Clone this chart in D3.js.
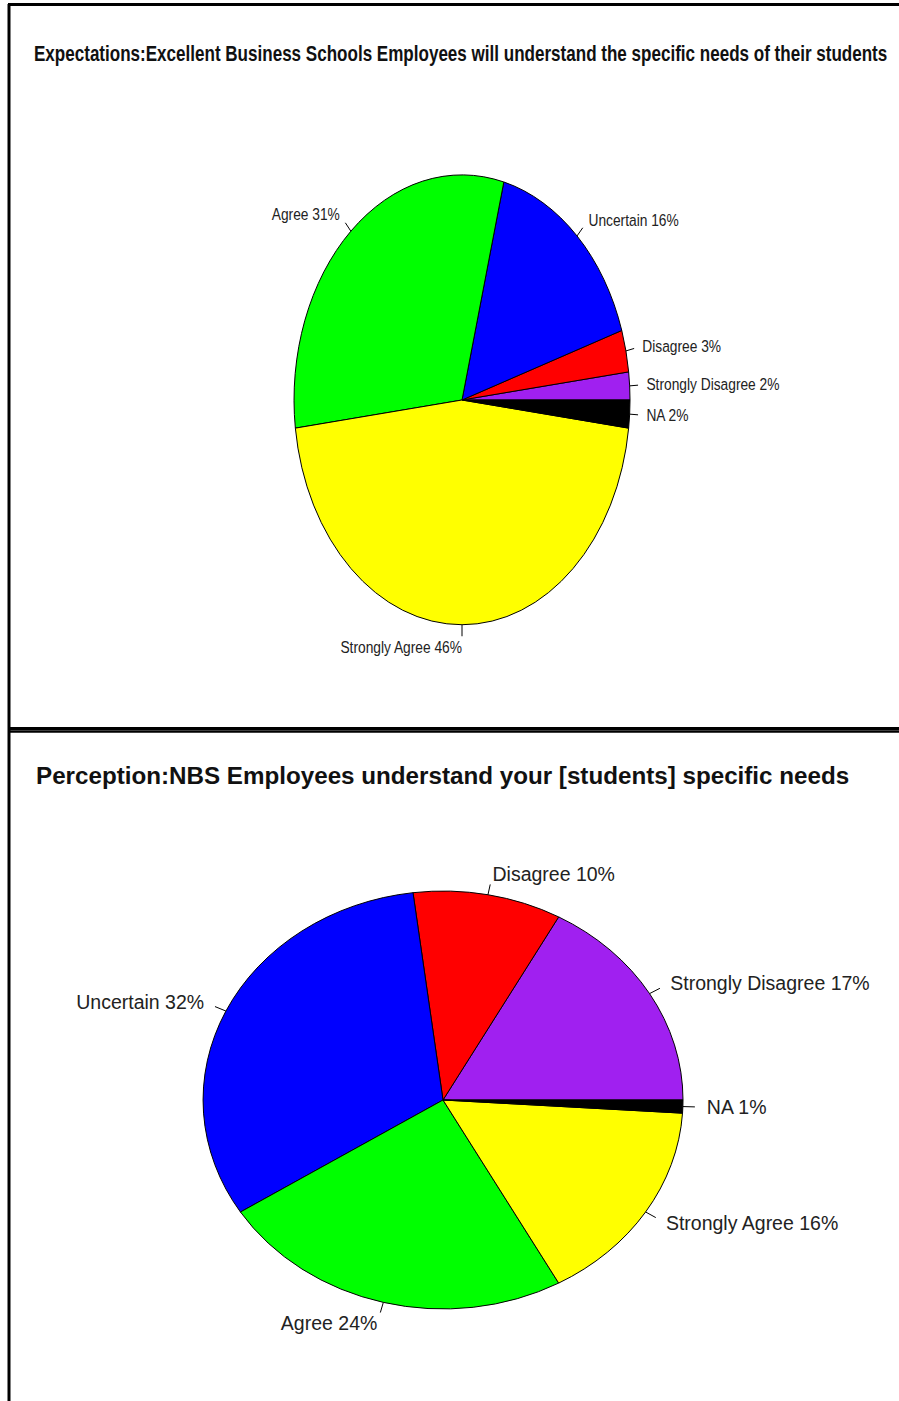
<!DOCTYPE html>
<html>
<head>
<meta charset="utf-8">
<script src="https://cdn.jsdelivr.net/npm/d3@7"></script>
<style>
  html, body { margin: 0; padding: 0; background: #fff; }
  svg { display: block; }
</style>
</head>
<body>
<svg id="chart" width="899" height="1401"></svg>
<script>
// Survey answers, in drawing order (counter-clockwise from 3 o'clock)
const categories = ["Strongly Disagree", "Disagree", "Uncertain", "Agree", "Strongly Agree", "NA"];
const sliceColors = ["#a020f0", "#ff0000", "#0000ff", "#00ff00", "#ffff00", "#000000"];

// Expectations panel (percent)
const expectationTitle = "Expectations:Excellent Business Schools Employees will understand the specific needs of their students";
const expectationValues = [2, 3, 16, 31, 46, 2];

// Perception panel (percent)
const perceptionTitle = "Perception:NBS Employees understand your [students] specific needs";
const perceptionValues = [17, 10, 32, 24, 16, 1];

const svg = d3.select("#chart");
const FONT = "'Liberation Sans', Arial, sans-serif";

// Panel frames
svg.append("line").attr("x1", 9).attr("x2", 9).attr("y1", 4).attr("y2", 1401)
  .attr("stroke", "#000").attr("stroke-width", 3);
svg.append("line").attr("x1", 8).attr("x2", 899).attr("y1", 4.5).attr("y2", 4.5)
  .attr("stroke", "#000").attr("stroke-width", 3);
svg.append("line").attr("x1", 8).attr("x2", 899).attr("y1", 728.5).attr("y2", 728.5)
  .attr("stroke", "#000").attr("stroke-width", 3);
svg.append("line").attr("x1", 8).attr("x2", 899).attr("y1", 731.5).attr("y2", 731.5)
  .attr("stroke", "#000").attr("stroke-width", 2.5);

function drawPie(opts) {
  const g = svg.append("g");

  // Title, horizontally compressed when the panel uses a narrow face
  g.append("g")
    .attr("transform", `translate(${opts.titleX},${opts.titleY}) scale(${opts.titleSqueeze},1)`)
    .append("text")
    .attr("font-family", FONT)
    .attr("font-weight", "bold")
    .attr("font-size", opts.titleSize)
    .attr("fill", "#111")
    .text(opts.title);

  const data = categories.map((c, i) => ({ name: c, value: opts.values[i], color: sliceColors[i] }));

  // Start at 3 o'clock and run counter-clockwise
  const pie = d3.pie().sort(null).value(d => d.value)
    .startAngle(Math.PI / 2).endAngle(Math.PI / 2 - 2 * Math.PI);
  const arcs = pie(data);

  const sx = d3.scaleLinear().domain([-1, 1]).range([opts.cx - opts.rx, opts.cx + opts.rx]);
  const sy = d3.scaleLinear().domain([-1, 1]).range([opts.cy - opts.ry, opts.cy + opts.ry]);

  const arc = d3.arc().innerRadius(0).outerRadius(1);
  const slices = g.append("g")
    .attr("transform", `translate(${opts.cx},${opts.cy}) scale(${opts.rx},${opts.ry})`);
  slices.selectAll("path").data(arcs).join("path")
    .attr("d", arc)
    .attr("fill", d => d.data.color)
    .attr("stroke", "#000")
    .attr("stroke-width", 1)
    .attr("vector-effect", "non-scaling-stroke");

  arcs.forEach(d => {
    const a = (d.startAngle + d.endAngle) / 2;
    const ux = Math.sin(a), uy = -Math.cos(a);
    g.append("line")
      .attr("x1", sx(ux)).attr("y1", sy(uy))
      .attr("x2", sx(1.05 * ux)).attr("y2", sy(1.05 * uy))
      .attr("stroke", "#000").attr("stroke-width", 1);
    g.append("g")
      .attr("transform", `translate(${sx(1.1 * ux)},${sy(1.1 * uy)}) scale(${opts.labelSqueeze},1)`)
      .append("text")
      .attr("dy", "0.35em")
      .attr("text-anchor", ux < 1e-9 ? "end" : "start")
      .attr("font-family", FONT)
      .attr("font-size", opts.labelSize)
      .attr("fill", "#222")
      .text(`${d.data.name} ${d.data.value}%`);
  });
}

drawPie({
  title: expectationTitle, titleX: 34, titleY: 61, titleSize: 22, titleSqueeze: 0.775,
  values: expectationValues,
  cx: 462, cy: 400, rx: 168, ry: 225,
  labelSize: 17, labelSqueeze: 0.81
});

drawPie({
  title: perceptionTitle, titleX: 36, titleY: 784, titleSize: 24.2, titleSqueeze: 1,
  values: perceptionValues,
  cx: 443, cy: 1100, rx: 240, ry: 209,
  labelSize: 19.5, labelSqueeze: 1
});
</script>
</body>
</html>
